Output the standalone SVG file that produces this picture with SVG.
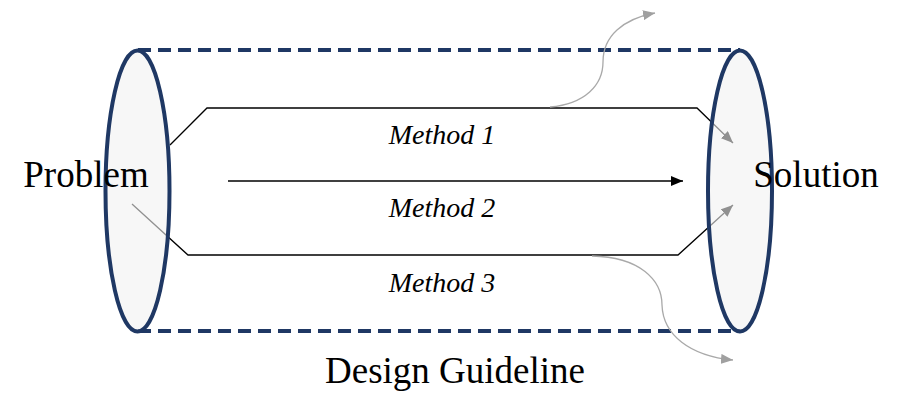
<svg xmlns="http://www.w3.org/2000/svg" width="902" height="418" viewBox="0 0 902 418">
<defs>
<style>
.conn{fill:none;stroke:#000;stroke-width:1.3}
.soft{fill:none;stroke:#a9a9a9;stroke-width:1.3}
.tube{fill:none;stroke:#1f3864;stroke-width:4;stroke-dasharray:13 7}
.end{fill:#f2f2f2;fill-opacity:0.6;stroke:#1f3864;stroke-width:4}
.big{font-family:"Liberation Serif","Times New Roman",serif;font-size:37px;fill:#000}
.meth{font-family:"Liberation Serif","Times New Roman",serif;font-size:28px;font-style:italic;fill:#000}
</style>
<marker id="ah" viewBox="0 0 12 10" refX="12" refY="5" markerWidth="12" markerHeight="10" markerUnits="userSpaceOnUse" orient="auto">
<path d="M0,0 L12,5 L0,10 Z" fill="#000"/>
</marker>
<marker id="ahg" viewBox="0 0 12 10" refX="12" refY="5" markerWidth="12" markerHeight="10" markerUnits="userSpaceOnUse" orient="auto">
<path d="M0,0 L12,5 L0,10 Z" fill="#a0a0a0"/>
</marker>
</defs>
<rect width="902" height="418" fill="#fff"/>
<g id="tube">
<line class="tube" x1="138" y1="50" x2="740" y2="50"/>
<line class="tube" x1="138" y1="331" x2="740" y2="331"/>
</g>
<g id="connectors">
<path id="method1" class="conn" d="M170,145 L207,108 L697,108 L733,143" marker-end="url(#ah)"/>
<path id="method2" class="conn" d="M228,181 L683,181" marker-end="url(#ah)"/>
<path id="method3" class="conn" d="M132,204 L188,255 L678,255 L733,205" marker-end="url(#ah)"/>
<path id="branch-top" class="soft" d="M550,107 C585,104 603,85 603,62 C603,36 623,19 655,13" marker-end="url(#ahg)"/>
<path id="branch-bottom" class="soft" d="M592,256 C640,257 662,280 662,305 C663,335 690,356 733,360" marker-end="url(#ahg)"/>
</g>
<g id="problem">
<ellipse class="end" cx="137.5" cy="191" rx="32" ry="140.5"/>
<text class="big" x="86" y="187" text-anchor="middle">Problem</text>
</g>
<g id="solution">
<ellipse class="end" cx="740" cy="191" rx="32" ry="140.5"/>
<text class="big" x="816" y="187" text-anchor="middle">Solution</text>
</g>
<g id="labels">
<text class="meth" x="442" y="144" text-anchor="middle">Method 1</text>
<text class="meth" x="442" y="217" text-anchor="middle">Method 2</text>
<text class="meth" x="442" y="292" text-anchor="middle">Method 3</text>
<text class="big" x="455" y="383" text-anchor="middle">Design Guideline</text>
</g>
</svg>
